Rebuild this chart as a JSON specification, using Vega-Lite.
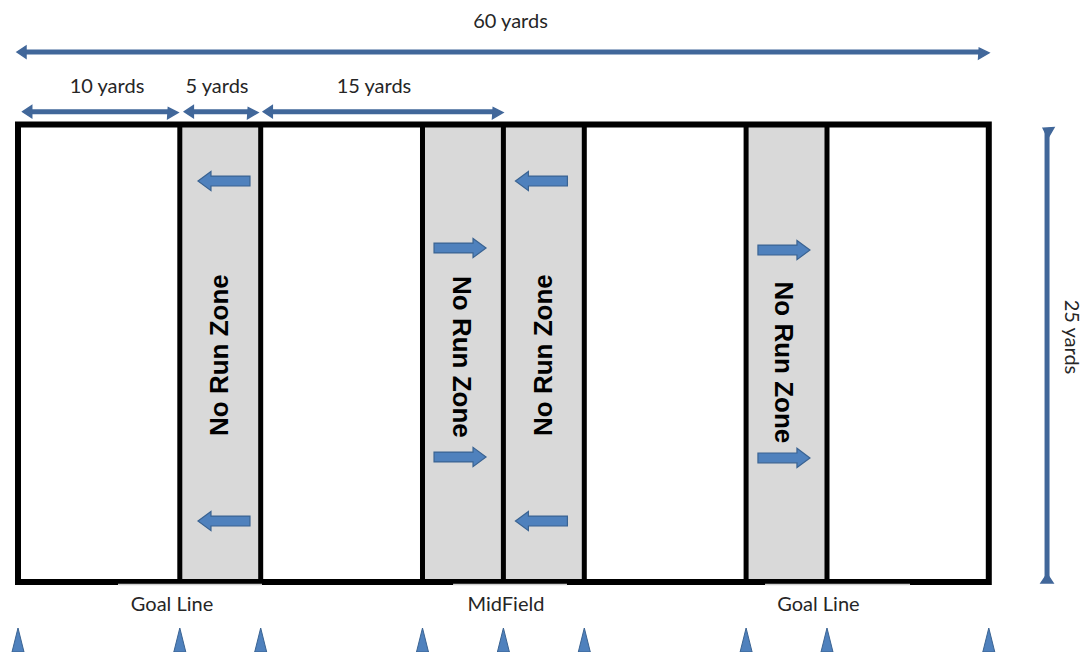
{
  "$schema": "https://vega.github.io/schema/vega-lite/v6.json",
  "width": 1090,
  "height": 652,
  "autosize": {"type": "none"},
  "padding": 0,
  "background": "white",
  "config": {"view": {"stroke": null}},
  "datasets": {
    "zones": [
      {"x": 10, "x2": 15, "y": 0, "y2": 25},
      {"x": 25, "x2": 30, "y": 0, "y2": 25},
      {"x": 30, "x2": 35, "y": 0, "y2": 25},
      {"x": 45, "x2": 50, "y": 0, "y2": 25}
    ],
    "field": [{"x": 0, "x2": 60, "y": 0, "y2": 25}],
    "lines": [
      {"x": 10, "y": 0, "y2": 25},
      {"x": 15, "y": 0, "y2": 25},
      {"x": 25, "y": 0, "y2": 25},
      {"x": 30, "y": 0, "y2": 25},
      {"x": 35, "y": 0, "y2": 25},
      {"x": 45, "y": 0, "y2": 25},
      {"x": 50, "y": 0, "y2": 25}
    ],
    "boxes": [
      {"x": 6.18, "x2": 15.08, "y": -0.14},
      {"x": 26.89, "x2": 33.93, "y": -0.14},
      {"x": 46.17, "x2": 55.13, "y": -0.14}
    ],
    "zoneText": [
      {"x": 12.48, "y": 12.4, "label": "No Run Zone", "dir": "left"},
      {"x": 27.4, "y": 12.3, "label": "No Run Zone", "dir": "right"},
      {"x": 32.5, "y": 12.4, "label": "No Run Zone", "dir": "left"},
      {"x": 47.3, "y": 12.0, "label": "No Run Zone", "dir": "right"}
    ],
    "arrows": [
      {"x": 12.73, "y": 21.91, "dir": "left"},
      {"x": 12.73, "y": 3.33, "dir": "left"},
      {"x": 32.35, "y": 21.91, "dir": "left"},
      {"x": 32.35, "y": 3.33, "dir": "left"},
      {"x": 27.32, "y": 18.25, "dir": "right"},
      {"x": 27.32, "y": 6.83, "dir": "right"},
      {"x": 47.34, "y": 18.14, "dir": "right"},
      {"x": 47.34, "y": 6.78, "dir": "right"}
    ],
    "dims": [
      {"x": 0.216, "x2": 59.55, "y": 28.96, "y2": 28.96},
      {"x": 0.57, "x2": 9.43, "y": 25.7, "y2": 25.7},
      {"x": 10.56, "x2": 14.37, "y": 25.7, "y2": 25.7},
      {"x": 15.44, "x2": 29.51, "y": 25.7, "y2": 25.7},
      {"x": 63.6, "x2": 63.6, "y": 24.67, "y2": 0.19}
    ],
    "heads": [
      {"x": 0.216, "y": 28.96, "dir": "left"},
      {"x": 59.55, "y": 28.96, "dir": "right"},
      {"x": 0.57, "y": 25.7, "dir": "left"},
      {"x": 9.43, "y": 25.7, "dir": "right"},
      {"x": 10.56, "y": 25.7, "dir": "left"},
      {"x": 14.37, "y": 25.7, "dir": "right"},
      {"x": 15.44, "y": 25.7, "dir": "left"},
      {"x": 29.51, "y": 25.7, "dir": "right"},
      {"x": 63.6, "y": 24.67, "dir": "up"},
      {"x": 63.6, "y": 0.19, "dir": "down"}
    ],
    "dimLabels": [
      {"x": 30.44, "y": 30.6, "label": "60 yards"},
      {"x": 5.5, "y": 27.05, "label": "10 yards"},
      {"x": 12.3, "y": 27.05, "label": "5 yards"},
      {"x": 22.0, "y": 27.05, "label": "15 yards"}
    ],
    "sideLabel": [{"x": 65.1, "y": 13.39, "label": "25 yards"}],
    "bottomLabels": [
      {"x": 9.52, "y": -1.26, "label": "Goal Line"},
      {"x": 30.16, "y": -1.26, "label": "MidField"},
      {"x": 49.47, "y": -1.26, "label": "Goal Line"}
    ],
    "cones": [
      {"x": 0, "y": -3.17},
      {"x": 10, "y": -3.17},
      {"x": 15, "y": -3.17},
      {"x": 25, "y": -3.17},
      {"x": 30, "y": -3.17},
      {"x": 35, "y": -3.17},
      {"x": 45, "y": -3.17},
      {"x": 50, "y": -3.17},
      {"x": 60, "y": -3.17}
    ]
  },
  "encoding": {
    "x": {"field": "x", "type": "quantitative", "scale": {"domain": [-1.1125, 66.255], "nice": false, "zero": false}, "axis": null},
    "y": {"field": "y", "type": "quantitative", "scale": {"domain": [-3.825, 31.803], "nice": false, "zero": false}, "axis": null}
  },
  "layer": [
    {
      "data": {"name": "zones"},
      "mark": {"type": "rect", "fill": "#d9d9d9"},
      "encoding": {"x2": {"field": "x2"}, "y2": {"field": "y2"}}
    },
    {
      "data": {"name": "lines"},
      "mark": {"type": "rule", "stroke": "black", "strokeWidth": 5},
      "encoding": {"y2": {"field": "y2"}}
    },
    {
      "data": {"name": "field"},
      "mark": {"type": "rect", "fill": null, "fillOpacity": 0, "stroke": "black", "strokeWidth": 6},
      "encoding": {"x2": {"field": "x2"}, "y2": {"field": "y2"}}
    },
    {
      "data": {"name": "boxes"},
      "mark": {"type": "rule", "stroke": "#cfcfcf", "strokeWidth": 1.5},
      "encoding": {"x2": {"field": "x2"}}
    },
    {
      "data": {"name": "zoneText"},
      "transform": [{"filter": "datum.dir === 'left'"}],
      "mark": {"type": "text", "angle": 270, "font": "Liberation Sans", "fontWeight": "bold", "fontSize": 26, "fill": "black", "align": "center", "baseline": "middle"},
      "encoding": {"text": {"field": "label"}}
    },
    {
      "data": {"name": "zoneText"},
      "transform": [{"filter": "datum.dir === 'right'"}],
      "mark": {"type": "text", "angle": 90, "font": "Liberation Sans", "fontWeight": "bold", "fontSize": 26, "fill": "black", "align": "center", "baseline": "middle"},
      "encoding": {"text": {"field": "label"}}
    },
    {
      "data": {"name": "arrows"},
      "transform": [{"filter": "datum.dir === 'left'"}],
      "mark": {"type": "point", "filled": true, "opacity": 1, "size": 2704, "fill": "#4F81BD", "stroke": "#3A6392", "strokeWidth": 1.2,
        "shape": "M1,-0.19L-0.5,-0.19L-0.5,-0.37L-1,0L-0.5,0.37L-0.5,0.19L1,0.19Z"}
    },
    {
      "data": {"name": "arrows"},
      "transform": [{"filter": "datum.dir === 'right'"}],
      "mark": {"type": "point", "filled": true, "opacity": 1, "size": 2704, "fill": "#4F81BD", "stroke": "#3A6392", "strokeWidth": 1.2,
        "shape": "M-1,-0.19L0.5,-0.19L0.5,-0.37L1,0L0.5,0.37L0.5,0.19L-1,0.19Z"}
    },
    {
      "data": {"name": "dims"},
      "mark": {"type": "rule", "stroke": "#41679a", "strokeWidth": 5, "strokeCap": "butt"},
      "encoding": {"x2": {"field": "x2"}, "y2": {"field": "y2"}}
    },
    {
      "data": {"name": "heads"},
      "mark": {"type": "point", "filled": true, "opacity": 1, "size": 144, "fill": "#41679a", "stroke": "#41679a", "strokeWidth": 1.5, "shape": "M-0.75,0L0.75,-1L0.75,1Z"},
      "encoding": {
        "angle": {"field": "dir", "type": "nominal", "scale": {"domain": ["left", "up", "right", "down"], "range": [0, 90, 180, 270]}, "legend": null}
      }
    },
    {
      "data": {"name": "dimLabels"},
      "mark": {"type": "text", "font": "Lato", "fontSize": 20, "fill": "#262626", "align": "center", "baseline": "middle"},
      "encoding": {"text": {"field": "label"}}
    },
    {
      "data": {"name": "sideLabel"},
      "mark": {"type": "text", "angle": 90, "font": "Lato", "fontSize": 20, "fill": "#262626", "align": "center", "baseline": "middle"},
      "encoding": {"text": {"field": "label"}}
    },
    {
      "data": {"name": "bottomLabels"},
      "mark": {"type": "text", "font": "Lato", "fontSize": 20, "fill": "#262626", "align": "center", "baseline": "middle"},
      "encoding": {"text": {"field": "label"}}
    },
    {
      "data": {"name": "cones"},
      "mark": {"type": "point", "filled": true, "opacity": 1, "size": 576, "fill": "#4F81BD", "stroke": "#3A6392", "strokeWidth": 1, "shape": "M0,-1L0.5,1L-0.5,1Z"}
    }
  ]
}
